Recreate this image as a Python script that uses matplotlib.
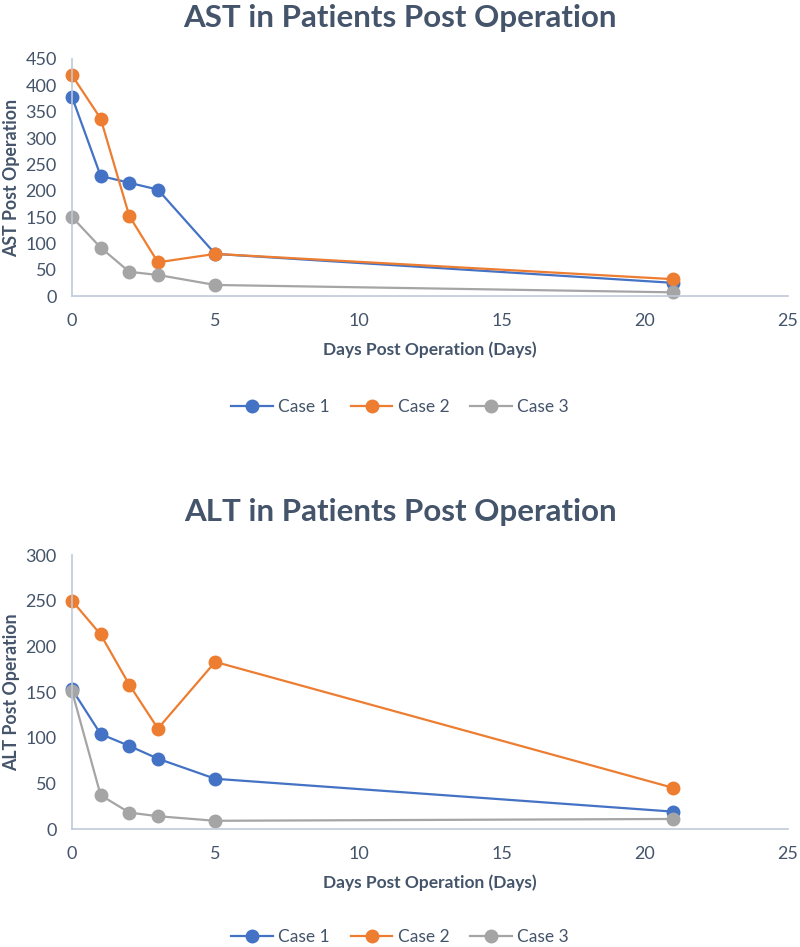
import matplotlib.pyplot as plt

plt.rcParams['font.family'] = ['Lato', 'DejaVu Sans']

days = [0, 1, 2, 3, 5, 21]
case_labels = ['Case 1', 'Case 2', 'Case 3']

ast_case1 = [378, 228, 215, 202, 80, 25]
ast_case2 = [419, 337, 152, 64, 80, 32]
ast_case3 = [150, 92, 46, 40, 21, 7]

alt_case1 = [153, 104, 91, 77, 55, 19]
alt_case2 = [250, 213, 158, 110, 183, 45]
alt_case3 = [151, 37, 18, 14, 9, 11]

colors = ['#4472C4', '#ED7D31', '#A5A5A5']
text_col = '#44546A'
axis_col = '#BFC9D9'

fig = plt.figure(figsize=(8, 9.47), dpi=100)


def draw(ax, series, title, title_y, ylabel, ymax, ystep, leg_y):
    lines = []
    for vals, lab, c in zip(series, case_labels, colors):
        ln, = ax.plot(days, vals, '-o', color=c, linewidth=1.6, markersize=9,
                      label=lab, clip_on=False)
        lines.append(ln)
    ax.set_xlim(0, 25)
    ax.set_ylim(0, ymax)
    ax.set_xticks(range(0, 26, 5))
    ax.set_yticks(range(0, ymax + 1, ystep))
    for s in ['top', 'right']:
        ax.spines[s].set_visible(False)
    for s in ['left', 'bottom']:
        ax.spines[s].set_color(axis_col)
        ax.spines[s].set_linewidth(1.2)
    ax.tick_params(length=0, labelsize=13, labelcolor=text_col)
    ax.tick_params(axis='x', pad=12)
    ax.tick_params(axis='y', pad=11)
    fig.text(0.5, title_y, title, ha='center', va='center', fontsize=22.5,
             fontweight='bold', color=text_col)
    ax.set_xlabel('Days Post Operation (Days)', fontsize=12.5, fontweight='bold',
                  color=text_col, labelpad=9)
    ax.set_ylabel(ylabel, fontsize=12.8, fontweight='bold', color=text_col, labelpad=4)
    leg = fig.legend(handles=lines, loc='center', bbox_to_anchor=(0.5, leg_y), ncol=3,
                     frameon=False, fontsize=12.5, handlelength=2.4,
                     columnspacing=1.2, handletextpad=0.3)
    for t in leg.get_texts():
        t.set_color(text_col)


ax1 = fig.add_axes([0.09, 0.6874, 0.895, 0.2503])
draw(ax1, [ast_case1, ast_case2, ast_case3], 'AST in Patients Post Operation', 0.981,
     'AST Post Operation', 450, 50, 1 - 407 / 947)

ax2 = fig.add_axes([0.09, 0.1246, 0.895, 0.2893])
draw(ax2, [alt_case1, alt_case2, alt_case3], 'ALT in Patients Post Operation', 0.4595,
     'ALT Post Operation', 300, 50, 1 - 937 / 947)

fig.savefig('out.png', dpi=100)
